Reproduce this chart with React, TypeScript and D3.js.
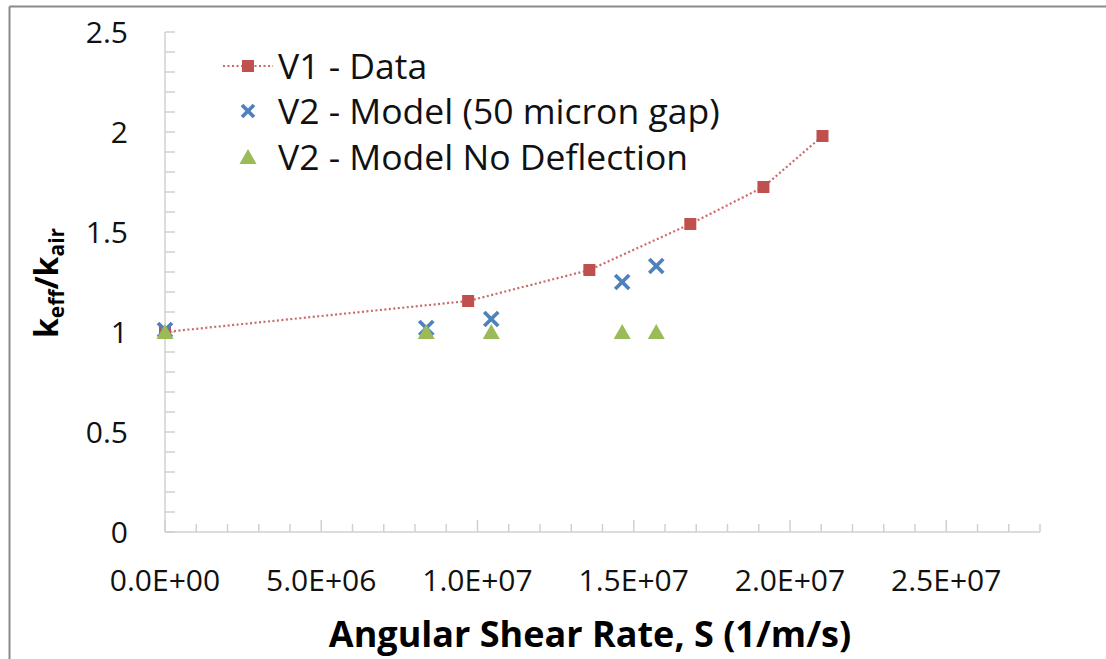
import React from "react";
import * as d3 from "d3";

const v1X = [0, 0.97e7, 1.358e7, 1.681e7, 1.915e7, 2.104e7];
const v1Y = [1.0, 1.155, 1.31, 1.54, 1.725, 1.98];
const v2X = [0, 0.836e7, 1.044e7, 1.463e7, 1.572e7];
const v2ModelY = [1.01, 1.02, 1.065, 1.25, 1.33];
const v2NoDefY = [1.0, 1.0, 1.0, 1.0, 1.0];
const xTicks = [0, 5e6, 1e7, 1.5e7, 2e7, 2.5e7];
const xTickLabels = ["0.0E+00", "5.0E+06", "1.0E+07", "1.5E+07", "2.0E+07", "2.5E+07"];
const yTicks = [0, 0.5, 1, 1.5, 2, 2.5];
const yTickLabels = ["0", "0.5", "1", "1.5", "2", "2.5"];
const legendLabels = ["V1 - Data", "V2 - Model (50 micron gap)", "V2 - Model No Deflection"];

const W = 1106, H = 659;
const RED = "#C0504D", BLUE = "#4F81BD", GREEN = "#9BBB59", AXIS = "#D0D0D0";
const FONT = "'Open Sans', Lato, sans-serif";

export default function App() {
  const x = d3.scaleLinear().domain([0, 2.8e7]).range([165, 1040]);
  const y = d3.scaleLinear().domain([0, 2.5]).range([532, 32]);
  const xMinor = d3.range(0, 2.8e7 + 1, 1e6);
  const yMinor = d3.range(0, 2.5001, 0.1);
  const line = d3.line<number>().x((d, i) => x(v1X[i])).y((d) => y(d));
  const sq = 12;
  const cross = (cx: number, cy: number, s: number, key: string) => (
    <g key={key} stroke={BLUE} strokeWidth={3.8} strokeLinecap="butt">
      <line x1={cx - s} y1={cy - s} x2={cx + s} y2={cy + s} />
      <line x1={cx - s} y1={cy + s} x2={cx + s} y2={cy - s} />
    </g>
  );
  const tri = (cx: number, cy: number, key: string) => (
    <path key={key} d={`M${cx},${cy - 8}L${cx + 8.5},${cy + 7}L${cx - 8.5},${cy + 7}Z`} fill={GREEN} />
  );
  const legX = 248;
  const legY = [66, 111, 157];
  return (
    <svg width={W} height={H} style={{ position: "absolute", left: 0, top: 0, background: "#fff" }} fontFamily={FONT}>
      <rect x={0} y={0} width={W} height={H} fill="#fff" />
      <line x1={9.5} y1={6.5} x2={W} y2={6.5} stroke="#8a8a8a" strokeWidth={2} />
      <line x1={9.5} y1={6.5} x2={9.5} y2={H} stroke="#8a8a8a" strokeWidth={2} />
      {/* axes */}
      <line x1={x(0)} y1={y(0)} x2={x(2.8e7)} y2={y(0)} stroke={AXIS} strokeWidth={1.5} />
      <line x1={x(0)} y1={y(0)} x2={x(0)} y2={y(2.5)} stroke={AXIS} strokeWidth={1.5} />
      {xMinor.map((v, i) => {
        const major = Math.abs(v / 5e6 - Math.round(v / 5e6)) < 1e-6;
        return <line key={"xm" + i} x1={x(v)} x2={x(v)} y1={y(0)} y2={y(0) - (major ? 12 : 8)} stroke={AXIS} strokeWidth={1.5} />;
      })}
      {yMinor.map((v, i) => (
        <line key={"ym" + i} x1={x(0)} x2={x(0) + 10} y1={y(v)} y2={y(v)} stroke={AXIS} strokeWidth={1.5} />
      ))}
      {xTicks.map((v, i) => (
        <text key={"xt" + i} x={x(v)} y={591} textAnchor="middle" fontSize={30} fill="#111">{xTickLabels[i]}</text>
      ))}
      {yTicks.map((v, i) => (
        <text key={"yt" + i} x={128} y={y(v) + 11} textAnchor="end" fontSize={30} fill="#111">{yTickLabels[i]}</text>
      ))}
      {/* titles */}
      <text x={590} y={647} textAnchor="middle" fontSize={36} fontWeight="bold" fill="#000">Angular Shear Rate, S (1/m/s)</text>
      <text transform="translate(58,283) rotate(-90)" textAnchor="middle" fontSize={32} fontWeight="bold" fill="#000">
        k<tspan fontSize={21} dy={6}>eff</tspan><tspan dy={-6}>/k</tspan><tspan fontSize={21} dy={6}>air</tspan>
      </text>
      {/* series */}
      <path d={line(v1Y) || ""} fill="none" stroke={RED} strokeWidth={2.2} strokeDasharray="2,2.5" opacity={0.85} />
      {v1Y.map((v, i) => (
        <rect key={"r" + i} x={x(v1X[i]) - sq / 2} y={y(v) - sq / 2} width={sq} height={sq} fill={RED} />
      ))}
      {v2ModelY.map((v, i) => cross(x(v2X[i]), y(v), 7, "c" + i))}
      {v2NoDefY.map((v, i) => tri(x(v2X[i]), y(v), "t" + i))}
      {/* legend */}
      <line x1={223} x2={273} y1={legY[0]} y2={legY[0]} stroke={RED} strokeWidth={2.2} strokeDasharray="2,2.5" opacity={0.85} />
      <rect x={legX - sq / 2} y={legY[0] - sq / 2} width={sq} height={sq} fill={RED} />
      {cross(legX, legY[1], 6, "lc")}
      {tri(legX, legY[2], "lt")}
      {legendLabels.map((l, i) => (
        <text key={"l" + i} x={278} y={legY[i] + 13} fontSize={35.5} fill="#111">{l}</text>
      ))}
    </svg>
  );
}
